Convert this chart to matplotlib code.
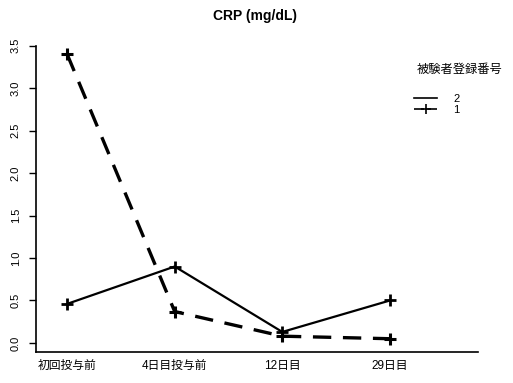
import matplotlib.pyplot as plt
from matplotlib.lines import Line2D

plt.rcParams['font.family'] = ['Liberation Sans', 'Noto Sans CJK JP']

visits = ['初回投与前', '4日目投与前', '12日目', '29日目']
subj1 = [3.40, 0.37, 0.08, 0.05]
subj2 = [0.46, 0.90, 0.13, 0.50]
yticks = [0.0, 0.5, 1.0, 1.5, 2.0, 2.5, 3.0, 3.5]

fig = plt.figure(figsize=(5.13, 3.83), dpi=100)
ax = fig.add_axes([0.070, 0.081, 0.862, 0.822])

xs = range(1, len(visits) + 1)
ax.plot(xs, subj2, '-', color='black', lw=1.6, marker='+', ms=8, mew=2)
ax.plot(xs, subj1, '--', color='black', lw=2.4, dashes=(5.5, 3.5),
        marker='+', ms=8, mew=2.2)

ax.set_xlim(0.71, 4.82)
ax.set_ylim(-0.106, 3.6)
ax.set_xticks(list(xs))
ax.set_xticklabels(visits, fontsize=8.5)
ax.tick_params(axis='x', length=0, pad=6)
ax.set_yticks(yticks)
ax.set_yticklabels(['%.1f' % v for v in yticks], rotation=90, va='center', fontsize=8)
ax.tick_params(axis='y', direction='out', length=5, width=1, pad=6)

for s in ['top', 'right']:
    ax.spines[s].set_visible(False)
ax.spines['left'].set_bounds(-0.106, 3.5)
ax.spines['left'].set_linewidth(1.2)
ax.spines['bottom'].set_linewidth(1.2)

fig.text(0.497, 0.958, 'CRP (mg/dL)', ha='center', va='center',
         fontsize=10, fontweight='bold')

# legend: subject 2 plain line, subject 1 dashed with a cross
h2 = Line2D([], [], color='black', lw=1.2)
h1 = Line2D([], [], color='black', lw=1.2, ls=(0, (6, 2)),
            marker='+', ms=7, mew=1.2)
fig.text(0.813, 0.817, '被験者登録番号', ha='left', va='center', fontsize=8.8)
leg = fig.legend([h2, h1], ['2', '1'], loc='upper left',
                 bbox_to_anchor=(0.797, 0.770), frameon=False, fontsize=8,
                 handlelength=2.0, labelspacing=0.12, handletextpad=1.5,
                 numpoints=1, borderpad=0)

fig.savefig('out.png', dpi=100)
